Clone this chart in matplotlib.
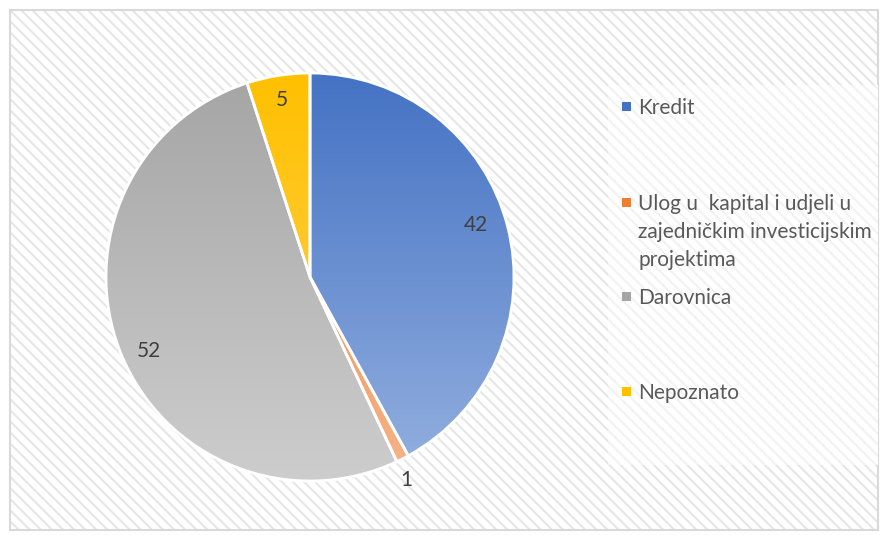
import matplotlib.pyplot as plt
import matplotlib.patches as mpatches
import numpy as np
from matplotlib.colors import LinearSegmentedColormap

#----------------------------------Data-------------------------------------------------
categories = ['Kredit',
              'Ulog u  kapital i udjeli u\nzajedničkim investicijskim\nprojektima',
              'Darovnica',
              'Nepoznato']
values = [42, 1, 52, 5]
# gradient colours top -> bottom for every slice
top_colors = ['#4472C4', '#ED7D31', '#A5A5A5', '#FFC000']
bottom_colors = ['#94B0DF', '#F6B48A', '#CDCDCD', '#FFD35A']
label_dist = [0.85, 1.10, 0.87, 0.88]
label_shift = [3, -1.5, 3, 0]   # degrees, excel "best fit" nudges

plt.rcParams['font.family'] = ['Lato', 'DejaVu Sans']
plt.rcParams['hatch.linewidth'] = 1.5
txt_color = '#595959'

W, H = 880, 535
fig = plt.figure(figsize=(W / 100, H / 100), dpi=100)

#--------------------------------background with stripes-------------------------------
bg = fig.add_axes([0, 0, 1, 1])
bg.set_xlim(0, W)
bg.set_ylim(H, 0)
bg.axis('off')
bg.add_patch(mpatches.Rectangle((10, 10), 868, 520, facecolor='white',
                                edgecolor='#e6e6e6', hatch='\\\\\\', lw=0))
bg.add_patch(mpatches.Rectangle((10, 10), 868, 520, facecolor='none',
                                edgecolor='#d9d9d9', lw=1.5))
# legend box, fainter stripes
bg.add_patch(mpatches.Rectangle((608, 85), 270, 380, facecolor='white',
                                edgecolor='#f2f2f2', hatch='\\\\\\', lw=0))

#--------------------------------pie----------------------------------------------------
cx, cy, r = 310, 277, 204
ax = fig.add_axes([(cx - r) / W, 1 - (cy + r) / H, 2 * r / W, 2 * r / H])
wedges, _ = ax.pie(values, startangle=90, counterclock=False, radius=1,
                   wedgeprops=dict(linewidth=2, edgecolor='white', clip_on=False))
ax.set_aspect('equal')
ax.axis('off')

for w, c1, c2, v, d, s in zip(wedges, top_colors, bottom_colors, values,
                              label_dist, label_shift):
    cmap = LinearSegmentedColormap.from_list('g', [c1, c2])
    grad = np.linspace(0, 1, 256).reshape(-1, 1)
    im = ax.imshow(grad, cmap=cmap, extent=(-1, 1, -1, 1), origin='upper',
                   aspect='auto', zorder=1)
    im.set_clip_path(w)
    w.set_facecolor('none')
    w.set_zorder(2)
    mid = np.deg2rad((w.theta1 + w.theta2) / 2 + s)
    ax.text(d * np.cos(mid), d * np.sin(mid), str(v), ha='center', va='center',
            fontsize=15, color='#404040', zorder=3, clip_on=False)

ax.set_xlim(-1, 1)
ax.set_ylim(-1, 1)

#--------------------------------legend-------------------------------------------------
leg_y = [107, 203, 297, 392]
for lab, c1, c2, y in zip(categories, top_colors, bottom_colors, leg_y):
    bg.add_patch(mpatches.Rectangle((622, y - 5), 9, 9, facecolor=c1,
                                    edgecolor='none'))
    bg.text(638, y - 9, lab, ha='left', va='top', fontsize=15,
            color=txt_color, linespacing=1.5)

fig.savefig('out.png', dpi=100)
